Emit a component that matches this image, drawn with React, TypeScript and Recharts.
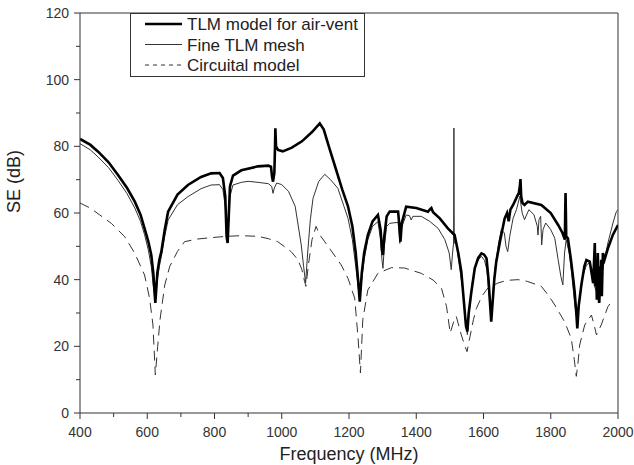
import React from "react";
import { Legend, Line, LineChart, ReferenceLine, XAxis, YAxis } from "recharts";

// TLM model for air-vent (thick)
const tlmFreq = [
  400, 430, 454, 485, 513, 540, 563, 580, 592, 603, 612, 618, 624, 630, 636, 642, 652, 662, 690, 721,
  760, 790, 815, 825, 832, 836, 839, 842, 846, 855, 880, 929, 960, 968, 971, 974, 978, 980, 981, 983,
  989, 1003, 1030, 1060, 1090, 1113, 1125, 1140, 1160, 1180, 1197, 1210, 1220, 1227, 1232, 1238, 1245,
  1256, 1270, 1286, 1294, 1298, 1301, 1305, 1312, 1321, 1346, 1350, 1353, 1357, 1370, 1400, 1435, 1440,
  1445, 1450, 1470, 1494, 1514, 1525, 1534, 1542, 1548, 1552, 1556, 1564, 1574, 1584, 1594, 1602, 1609,
  1615, 1620, 1623, 1627, 1632, 1638, 1650, 1663, 1670, 1675, 1680, 1688, 1700, 1705, 1708, 1710, 1712,
  1716, 1722, 1732, 1772, 1800, 1822, 1835, 1842, 1843, 1844, 1845, 1846, 1851, 1860, 1866, 1871, 1876,
  1879, 1883, 1891, 1900, 1906, 1916, 1923, 1926, 1929, 1931, 1933, 1935, 1937, 1940, 1942, 1944, 1946,
  1948, 1950, 1952, 1955, 1960, 1970, 1985, 2000,
];
const tlmSE = [
  82.2, 80.5, 78.4, 75.2, 71.4, 67.5, 63.4, 59.5, 55.4, 51.5, 47.4, 42, 33, 42, 46, 48.4, 55, 60.4, 65.5, 68.4,
  70.8, 71.9, 72, 70.5, 65, 53, 51, 58, 68, 71.2, 72.8, 74, 74.2, 73.9, 71, 69.4, 72, 80, 85.4, 80,
  78.9, 78.5, 79.6, 81.5, 84.3, 86.9, 85, 80, 73.5, 67, 62, 56, 48, 40, 33.4, 42, 48,
  53.4, 57.5, 59.4, 55, 49, 47.4, 53, 59, 60.4, 60.4, 56, 51.4, 57, 61.9, 61.5, 60.4, 61,
  61.5, 60.2, 58.4, 55.4, 53.4, 48, 42.4, 33, 26, 24.5, 30, 36.4, 43.4, 46.5, 47.9, 47.5, 46.4,
  40, 32, 27.4, 33, 40, 45.4, 52, 58.4, 60, 57.5, 61, 62.4, 65, 66, 68, 70.2, 65,
  63, 62.4, 63.4, 62.4, 60, 56.4, 54, 52, 60, 66, 60, 53, 52.4, 46, 41, 36.4, 30,
  25.4, 32, 38.4, 44, 45.9, 45.4, 41, 39, 46, 51, 38, 45, 34, 48, 36, 33, 44,
  37, 46, 35, 48, 46, 49.4, 53.5, 56.4,
];

// Fine TLM mesh (thin)
const fineFreq = [
  400, 430, 454, 485, 513, 540, 563, 580, 592, 603, 612, 618, 624, 630, 636, 642, 652, 662, 690, 721,
  760, 790, 815, 825, 832, 836, 839, 842, 846, 855, 880, 900, 929, 960, 970, 974, 978, 985, 1000, 1020,
  1040, 1058, 1065, 1071, 1077, 1085, 1093, 1110, 1128, 1145, 1167, 1185, 1197, 1210, 1220, 1227, 1232,
  1238, 1245, 1256, 1270, 1286, 1294, 1298, 1301, 1305, 1312, 1321, 1346, 1349, 1351, 1354, 1370, 1380,
  1385, 1390, 1415, 1440, 1465, 1485, 1498, 1504, 1508, 1511, 1512, 1513, 1519, 1530, 1539, 1546, 1552,
  1557, 1565, 1575, 1585, 1594, 1603, 1610, 1617, 1623, 1628, 1635, 1645, 1653, 1662, 1667, 1672, 1678,
  1688, 1698, 1708, 1715, 1722, 1735, 1750, 1760, 1762, 1765, 1770, 1773, 1777, 1785, 1800, 1812, 1822,
  1830, 1836, 1841, 1846, 1855, 1862, 1871, 1879, 1886, 1895, 1906, 1915, 1925, 1930, 1936, 1940, 1943,
  1946, 1950, 1958, 1970, 1985, 1995, 2000,
];
const fineSE = [
  80.8, 79, 76.8, 73.6, 69.8, 65.8, 61.5, 57.5, 53.5, 49, 44, 38, 33.5, 40, 44, 47, 53, 57.9, 62.5, 64.9,
  67.3, 68.4, 68.5, 67, 62, 55, 54, 58, 65, 68.4, 69.2, 69.5, 69.2, 68.8, 68, 65.9, 67.5, 69, 68.5, 66.5,
  62, 50.4, 44, 39, 48, 58, 64.4, 69.5, 71.6, 70, 67.4, 62, 58.4, 52, 44, 38, 34.5,
  40, 46, 52, 56, 57.4, 52, 46, 43.4, 50, 56, 56.9, 57.2, 54, 50.9, 55, 59.4, 59.2,
  57.9, 59, 59, 57.5, 55.4, 52, 48, 43, 48, 51, 85.5, 51, 51, 43, 36.4, 28, 23.5,
  30, 38, 44, 46, 47, 45.8, 43, 35, 29.4, 36, 44, 51, 55, 54, 50, 48.4, 53,
  58.4, 61, 65, 60, 58, 61, 59.5, 56, 53.4, 58, 59, 50.4, 55, 57, 55, 52.4, 46,
  41, 38.4, 48, 52, 48, 42, 33, 27, 34, 41, 44.4, 45, 41, 38, 36.4, 40, 34,
  33.4, 40, 45, 51, 57, 60.4, 61,
];

// Circuital model (dashed)
const circFreq = [
  400, 430, 459, 493, 533, 563, 592, 607, 617, 624, 631, 638, 652, 667, 690, 711, 750, 790, 835, 880,
  929, 960, 988, 1028, 1048, 1060, 1068, 1072, 1080, 1090, 1102, 1112, 1142, 1177, 1197, 1217, 1227, 1234,
  1241, 1256, 1286, 1326, 1365, 1415, 1450, 1475, 1490, 1501, 1510, 1519, 1527, 1534, 1545, 1551, 1556,
  1560, 1570, 1579, 1595, 1613, 1643, 1670, 1703, 1730, 1772, 1795, 1812, 1841, 1861, 1870, 1876, 1881,
  1886, 1901, 1921, 1930, 1936, 1950, 1970, 1985,
];
const circSE = [
  63, 61.5, 59.4, 56.9, 52.9, 47.9, 41.4, 34.4, 26.4, 11.4, 20, 28, 38.4, 44, 48.5, 51.4, 52.2, 52.6, 53, 53.2,
  53, 52.3, 51.4, 48.4, 46, 43, 39.4, 38, 45, 52, 56, 53.6, 49.4, 44.4, 40.4, 34.4, 22.4, 12,
  28, 36.9, 41.9, 43.6, 43.5, 41.9, 39.9, 37.4, 32, 24, 27, 29, 26, 23.4, 20, 18.4, 21,
  23, 28, 31.4, 35, 37.5, 39, 39.8, 40, 39.5, 38, 35, 32.4, 27.4, 22.4, 16, 11, 15,
  20.4, 26.4, 29.4, 26, 23.4, 26.4, 31.9, 34,
];

const freqTicks = [400, 500, 600, 700, 800, 900, 1000, 1100, 1200, 1300, 1400, 1500, 1600, 1700, 1800, 1900, 2000];
const seTicks = [0, 10, 20, 30, 40, 50, 60, 70, 80, 90, 100, 110, 120];

const legendItems = [
  { name: "TLM model for air-vent", width: 2.6, dash: undefined, color: "#000" },
  { name: "Fine TLM mesh", width: 1, dash: undefined, color: "#333" },
  { name: "Circuital model", width: 1, dash: "4 4", color: "#333" },
];

const toPoints = (f: number[], v: number[]) => f.map((freq, i) => ({ freq, se: v[i] }));

const font = "'Liberation Sans', Arial, sans-serif";
const axisColor = "#333";

function FreqTick({ x, y, payload }: any) {
  const major = payload.value % 200 === 0;
  return (
    <g>
      <line x1={x} x2={x} y1={y} y2={y + (major ? 6 : 4)} stroke={axisColor} />
      {major && (
        <text x={x} y={y + 24} textAnchor="middle" fontSize={14} fontFamily={font} fill="#333">
          {payload.value}
        </text>
      )}
    </g>
  );
}

function SETick({ x, y, payload }: any) {
  const major = payload.value % 20 === 0;
  return (
    <g>
      <line x1={x} x2={x - (major ? 6 : 4)} y1={y} y2={y} stroke={axisColor} />
      {major && (
        <text x={x - 11} y={y + 5} textAnchor="end" fontSize={14} fontFamily={font} fill="#333">
          {payload.value}
        </text>
      )}
    </g>
  );
}

function LegendBox() {
  return (
    <svg width={235} height={64}>
      <rect x={0.5} y={0.5} width={234} height={63} fill="#fff" stroke={axisColor} />
      {legendItems.map((item, i) => (
        <g key={item.name}>
          <line
            x1={15}
            x2={52}
            y1={11 + i * 20.5}
            y2={11 + i * 20.5}
            stroke={item.color}
            strokeWidth={item.width}
            strokeDasharray={item.dash}
          />
          <text x={57} y={17 + i * 20.5} fontSize={17} fontFamily={font} fill="#222">
            {item.name}
          </text>
        </g>
      ))}
    </svg>
  );
}

export default function App() {
  return (
    <div style={{ position: "absolute", left: 0, top: 0, width: 634, height: 465, background: "#fff" }}>
      <LineChart width={634} height={465} margin={{ top: 13, right: 16, bottom: 0, left: 0 }}>
        <XAxis
          dataKey="freq"
          type="number"
          domain={[400, 2000]}
          ticks={freqTicks}
          allowDataOverflow
          height={52}
          stroke={axisColor}
          tickLine={false}
          tickSize={0}
          tickMargin={0}
          tick={<FreqTick />}
          label={{ value: "Frequency (MHz)", position: "insideBottom", offset: 5, fontSize: 18, fontFamily: font, fill: "#222" }}
        />
        <YAxis
          type="number"
          domain={[0, 120]}
          ticks={seTicks}
          width={80}
          stroke={axisColor}
          tickLine={false}
          tickSize={0}
          tickMargin={0}
          tick={<SETick />}
          label={{ value: "SE (dB)", angle: -90, position: "insideLeft", offset: 14, fontSize: 18, fontFamily: font, fill: "#222" }}
        />
        <ReferenceLine y={120} stroke={axisColor} />
        <ReferenceLine x={2000} stroke={axisColor} />
        <Line
          data={toPoints(circFreq, circSE)}
          dataKey="se"
          name="Circuital model"
          stroke="#333"
          strokeWidth={1}
          strokeDasharray="10 6"
          dot={false}
          isAnimationActive={false}
        />
        <Line
          data={toPoints(fineFreq, fineSE)}
          dataKey="se"
          name="Fine TLM mesh"
          stroke="#333"
          strokeWidth={1}
          dot={false}
          isAnimationActive={false}
        />
        <Line
          data={toPoints(tlmFreq, tlmSE)}
          dataKey="se"
          name="TLM model for air-vent"
          stroke="#000"
          strokeWidth={2.6}
          dot={false}
          isAnimationActive={false}
        />
        <Legend
          layout="vertical"
          align="center"
          verticalAlign="middle"
          content={<LegendBox />}
          wrapperStyle={{ left: 130, top: 13, width: 235, height: 64 }}
        />
      </LineChart>
    </div>
  );
}
